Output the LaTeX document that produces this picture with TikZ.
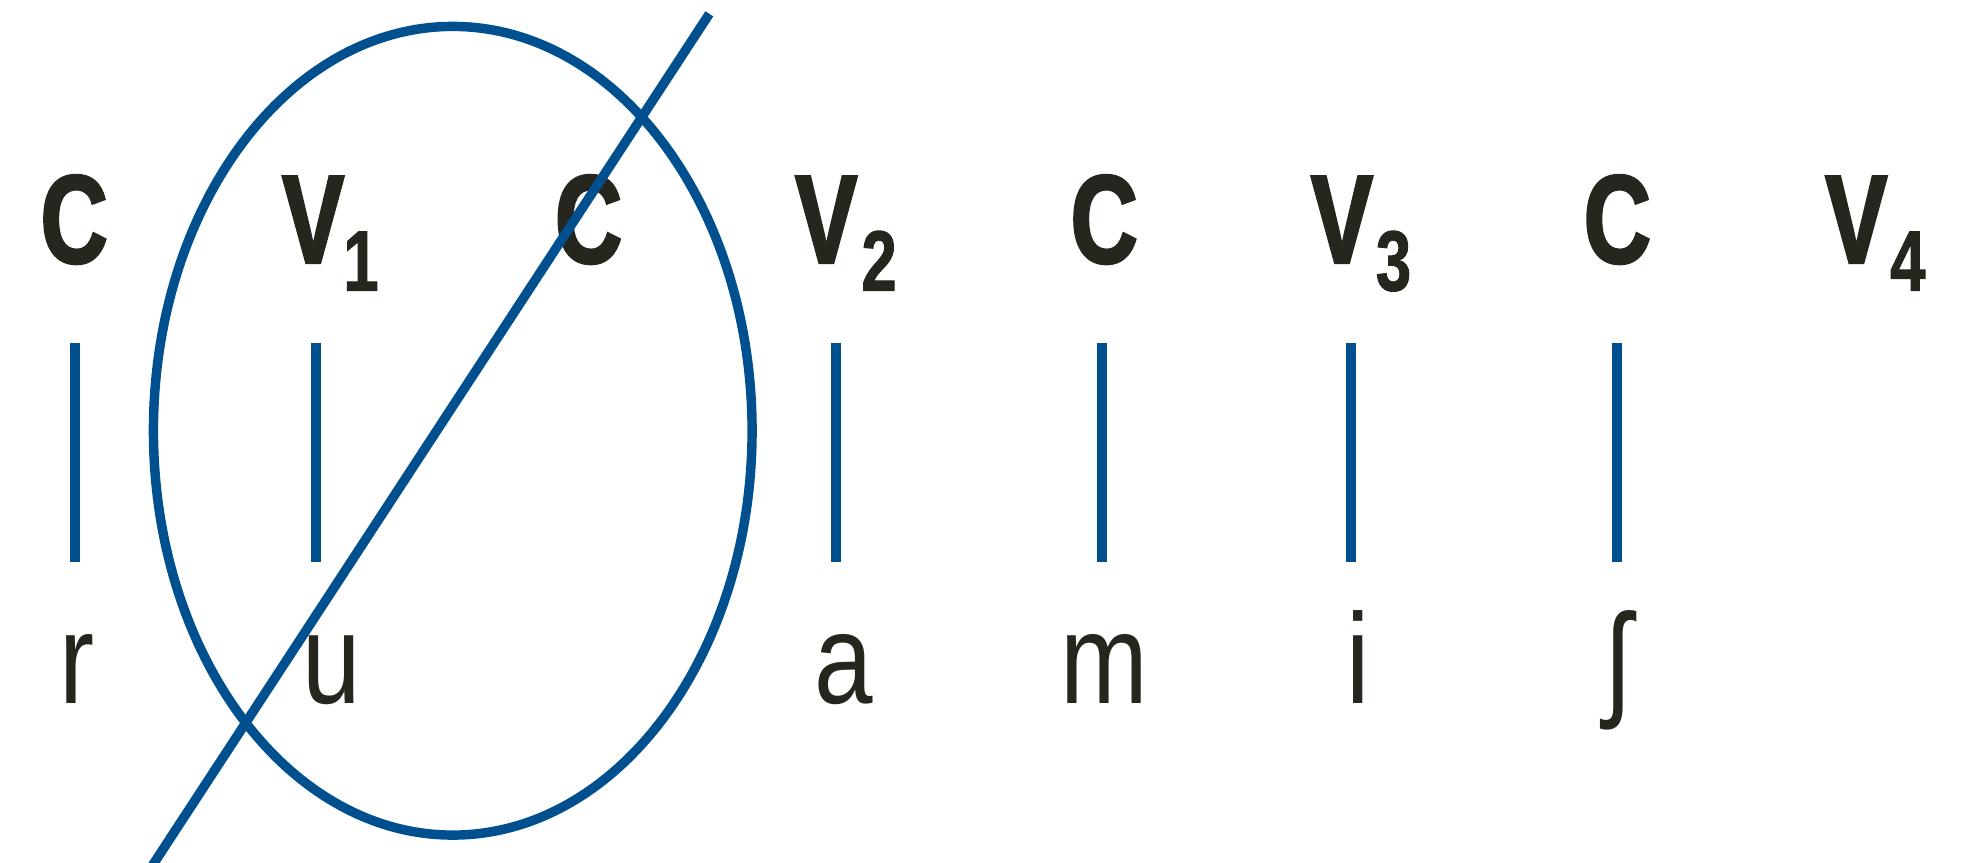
\documentclass[tikz,border=0pt]{standalone}
\usepackage{fontspec}
\newfontfamily\condB[FakeStretch=0.74,FakeBold=2]{Liberation Sans}
\newfontfamily\condS[FakeStretch=0.74,FakeBold=1.2]{Liberation Sans}
\newfontfamily\condR[FakeStretch=0.82]{Liberation Sans}
\definecolor{lineblue}{HTML}{00508F}
\definecolor{ink}{HTML}{26261F}
\begin{document}
\begin{tikzpicture}[x=1pt,y=-1pt,
  toplab/.style={inner sep=0pt, anchor=base, text=ink, font=\condB\bfseries\fontsize{100}{100}\selectfont},
  sublab/.style={inner sep=0pt, anchor=base, text=ink, font=\condS\bfseries\fontsize{68}{68}\selectfont},
  botlab/.style={inner sep=0pt, anchor=base, text=ink, font=\condR\fontsize{102}{102}\selectfont},
  link/.style={draw=lineblue, line width=8pt},
  ring/.style={draw=lineblue, line width=7.5pt}]
\useasboundingbox (0,0) rectangle (1568,686);
% top row
\node[toplab] (c1) at (59,209) {C};
\node[toplab] (v1) at (249,209) {V};
\node[sublab] (s1) at (287,231) {1};
\node[toplab] (c2) at (468,209) {C};
\node[toplab] (v2) at (657,209) {V};
\node[sublab] (s2) at (699,231) {2};
\node[toplab] (c3) at (878,209) {C};
\node[toplab] (v3) at (1067,209) {V};
\node[sublab] (s3) at (1108,231) {3};
\node[toplab] (c4) at (1286,209) {C};
\node[toplab] (v4) at (1476,209) {V};
\node[sublab] (s4) at (1517,231) {4};
% bottom row
\node[botlab] (r) at (61,559) {r};
\node[botlab] (u) at (264,559) {u};
\node[botlab] (a) at (671,559) {a};
\node[botlab] (m) at (878,559) {m};
\node[botlab] (i) at (1080,559) {i};
\node[botlab] (sh) at (1287,559) {ʃ};
% association lines
\foreach \n/\x in {1/60,2/251,3/665,4/876,5/1074,6/1286}{
  \coordinate (t\n) at (\x,273);
  \coordinate (b\n) at (\x,447);
  \draw[link] (t\n) -- (b\n);
}
% ellipse and strike line
\coordinate (ec) at (360,342.5);
\draw[ring] (ec) ellipse [x radius=238pt, y radius=321.5pt];
\coordinate (sa) at (120,690);
\coordinate (sb) at (564,11);
\draw[ring] (sa) -- (sb);
\end{tikzpicture}
\end{document}
